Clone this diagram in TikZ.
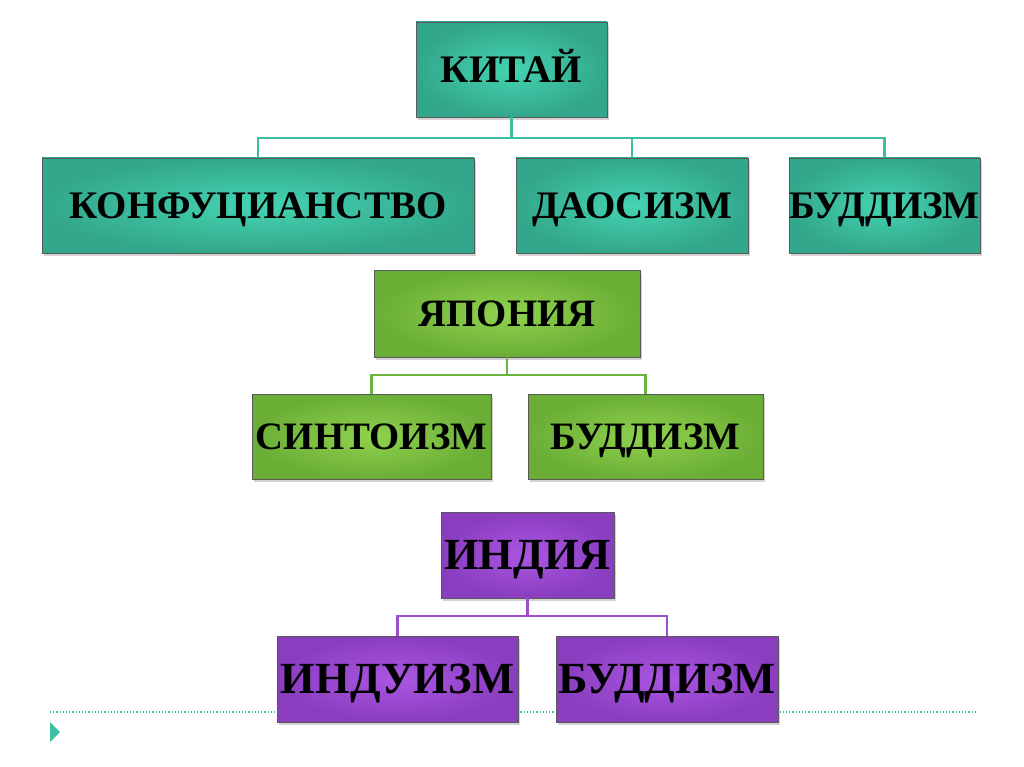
\documentclass[tikz,border=0pt]{standalone}
\usepackage{fontspec}
\setmainfont{Liberation Serif}
\usetikzlibrary{shadows}
\definecolor{tealin}{HTML}{44D4B2}
\definecolor{tealout}{HTML}{33A78B}
\definecolor{tealline}{HTML}{3CBFA0}
\definecolor{greenin}{HTML}{90D24E}
\definecolor{greenout}{HTML}{6AAE36}
\definecolor{greenline}{HTML}{6DB33F}
\definecolor{purpin}{HTML}{AA56E2}
\definecolor{purpout}{HTML}{8A3DBF}
\definecolor{purpline}{HTML}{9A4FCC}
\tikzset{
  box/.style={draw=black!65, line width=0.8pt, shading=radial,
    text=black, inner sep=0pt, text depth=0pt,
    drop shadow={shadow xshift=2pt, shadow yshift=-3pt, opacity=0.35}},
  tealbox/.style={box, inner color=tealin, outer color=tealout},
  greenbox/.style={box, inner color=greenin, outer color=greenout},
  purpbox/.style={box, inner color=purpin, outer color=purpout},
  conn/.style={line width=2.2pt},
  chinafont/.style={font=\fontsize{39}{42}\selectfont\bfseries, text height=25.8pt},
  japanfont/.style={font=\fontsize{38.8}{42}\selectfont\bfseries, text height=25.6pt},
  indiafont/.style={font=\fontsize{44.5}{48}\selectfont\bfseries, text height=29.4pt},
}
\begin{document}
\begin{tikzpicture}[x=1pt,y=-1pt]
\useasboundingbox (0,0) rectangle (1024,767);
\fill[white] (0,0) rectangle (1024,767);
% footer decoration
\draw[tealline, line width=1.2pt, dotted] (50,712) -- (975,712);
\fill[tealline] (50,722) -- (60,732) -- (50,742) -- cycle;

% China
\node[tealbox, chinafont, minimum width=191pt, minimum height=95pt] (kitai) at (511.5,69.5) {КИТАЙ};
\node[tealbox, chinafont, minimum width=432pt, minimum height=95pt] (konf) at (258,205.5) {КОНФУЦИАНСТВО};
\node[tealbox, chinafont, minimum width=232pt, minimum height=95pt] (dao) at (632,205.5) {ДАОСИЗМ};
\node[tealbox, chinafont, minimum width=191pt, minimum height=95pt] (budc) at (884.5,205.5) {БУДДИЗМ};
\coordinate (cbus) at (511.5,138);
\draw[tealline, conn] (kitai.south) -- (cbus);
\draw[tealline, conn] (konf.north) |- (cbus) -| (budc.north);
\draw[tealline, conn] (dao.north) -- (dao.north |- cbus);

% Japan
\node[greenbox, japanfont, minimum width=266pt, minimum height=87pt] (jap) at (507,313.5) {ЯПОНИЯ};
\node[greenbox, japanfont, minimum width=239pt, minimum height=85pt] (sint) at (371.5,436.5) {СИНТОИЗМ};
\node[greenbox, japanfont, minimum width=235pt, minimum height=85pt] (budj) at (645.5,436.5) {БУДДИЗМ};
\coordinate (jbus) at (507,375);
\draw[greenline, conn] (jap.south) -- (jbus);
\draw[greenline, conn] (sint.north) |- (jbus) -| (budj.north);

% India
\node[purpbox, indiafont, minimum width=173pt, minimum height=86pt] (ind) at (527.5,555) {ИНДИЯ};
\node[purpbox, indiafont, minimum width=241pt, minimum height=86pt] (hind) at (397.5,679) {ИНДУИЗМ};
\node[purpbox, indiafont, minimum width=222pt, minimum height=86pt] (budi) at (667,679) {БУДДИЗМ};
\coordinate (ibus) at (527.5,616);
\draw[purpline, conn] (ind.south) -- (ibus);
\draw[purpline, conn] (hind.north) |- (ibus) -| (budi.north);
\end{tikzpicture}
\end{document}
